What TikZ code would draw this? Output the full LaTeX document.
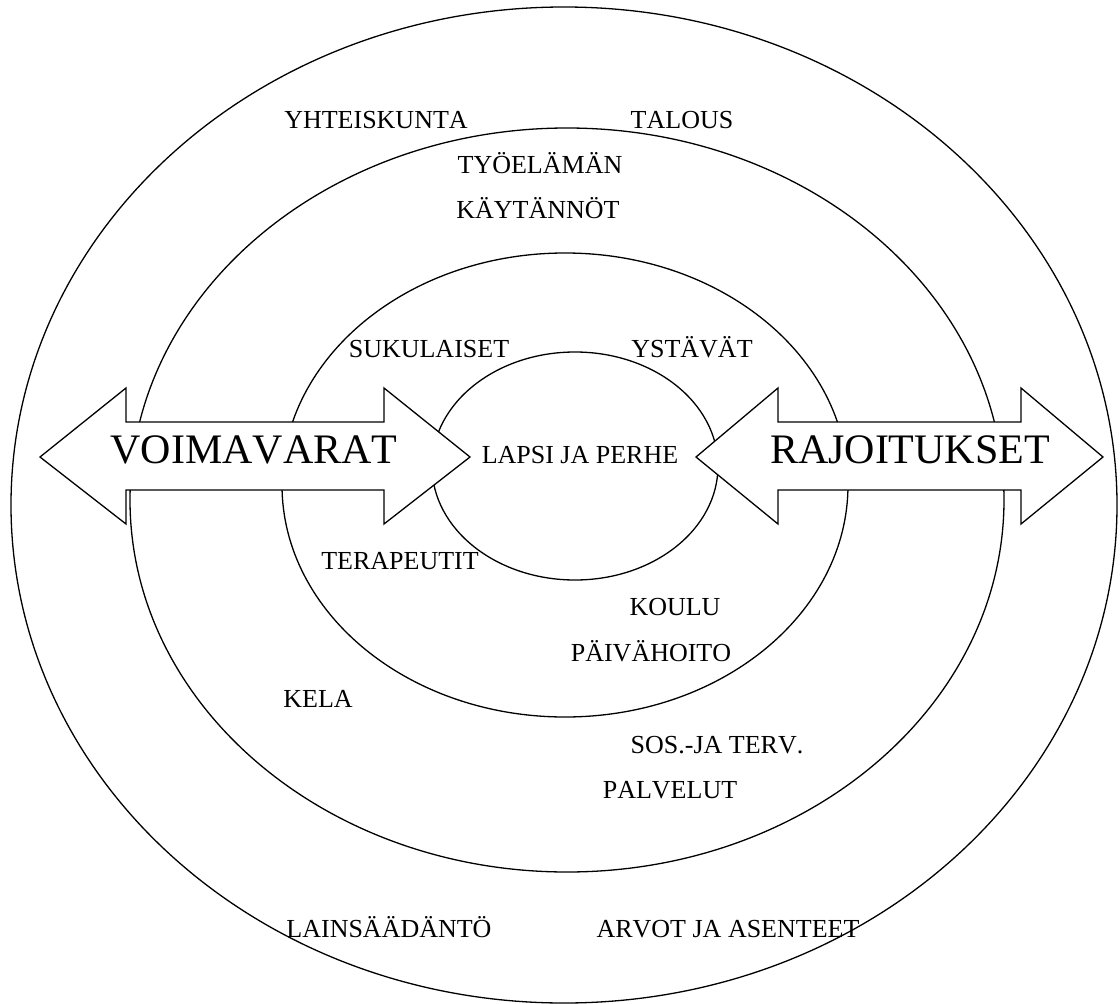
\documentclass[tikz,border=0pt]{standalone}
\usepackage{fontspec}
\setmainfont[Kerning=Off]{Liberation Serif}
\begin{document}
\begin{tikzpicture}[x=1pt,y=-1pt,
  ring/.style={draw=black,line width=1.3pt},
  bigarrow/.style={draw=black,fill=white,line width=1.3pt,line join=miter},
  lbl/.style={anchor=base,inner sep=0pt,font=\fontsize{26}{30}\selectfont},
  biglbl/.style={anchor=base,inner sep=0pt,font=\fontsize{42}{48}\selectfont}]
\useasboundingbox[fill=white] (0,0) rectangle (1120,1004);
% rings
\draw[ring] (564,505) ellipse [x radius=553, y radius=498];
\draw[ring] (567,500) ellipse [x radius=437, y radius=372];
\draw[ring] (565,485) ellipse [x radius=283, y radius=232];
\draw[ring] (575,466) ellipse [x radius=143, y radius=114];
% double arrows
\draw[bigarrow] (40,457) -- (126,388) -- (126,422) -- (384,422) -- (384,388)
  -- (470,457) -- (384,524) -- (384,490) -- (126,490) -- (126,524) -- cycle;
\draw[bigarrow] (696,457) -- (778,388) -- (778,422) -- (1021,422) -- (1021,388)
  -- (1103,457) -- (1021,524) -- (1021,490) -- (778,490) -- (778,524) -- cycle;
% labels
\node[biglbl] (voima) at (254,463) {VOIMAVARAT};
\node[biglbl] (rajo) at (910,463) {RAJOITUKSET};
\node[lbl] (lapsi) at (580,463) {LAPSI JA PERHE};
\node[lbl] (yhteis) at (376,128) {YHTEISKUNTA};
\node[lbl] (talous) at (682,128) {TALOUS};
\node[lbl] (tyo) at (540,173) {TYÖELÄMÄN};
\node[lbl] (kayt) at (538,218) {KÄYTÄNNÖT};
\node[lbl] (suku) at (429,357) {SUKULAISET};
\node[lbl] (ystavat) at (692,357) {YSTÄVÄT};
\node[lbl] (tera) at (400,569) {TERAPEUTIT};
\node[lbl] (koulu) at (675,615) {KOULU};
\node[lbl] (paiva) at (651,661) {PÄIVÄHOITO};
\node[lbl] (kela) at (318,707) {KELA};
\node[lbl] (sos) at (717,753) {SOS.-JA TERV.};
\node[lbl] (palv) at (670,798) {PALVELUT};
\node[lbl] (lains) at (389,937) {LAINSÄÄDÄNTÖ};
\node[lbl] (arvot) at (728,937) {ARVOT JA ASENTEET};
\end{tikzpicture}
\end{document}
